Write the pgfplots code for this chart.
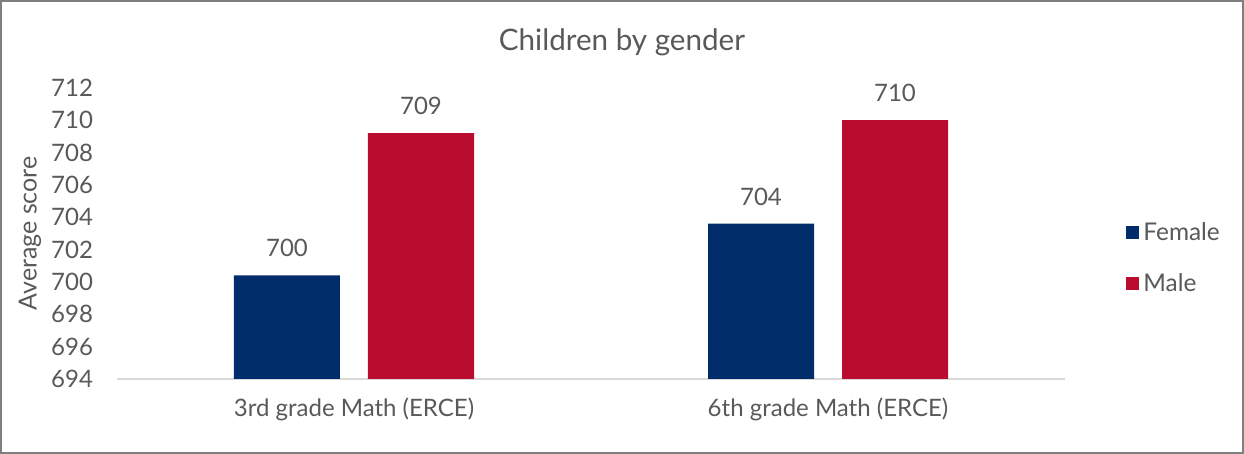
\documentclass[border=0pt]{standalone}
\usepackage{pgfplots}
\pgfplotsset{compat=1.18}
\usepackage{fontspec}
\setmainfont{Lato}
\definecolor{fem}{RGB}{0,45,106}
\definecolor{mal}{RGB}{186,12,47}
\definecolor{txt}{RGB}{89,89,89}
\definecolor{frame}{RGB}{127,127,127}
\definecolor{baseline}{RGB}{217,217,217}
\pgfplotsset{sqlegend/.style={legend image code/.code={\fill[##1,draw=none] (0pt,-3.25pt) rectangle (6.5pt,3.25pt);}}}
\begin{document}
\begin{tikzpicture}
\useasboundingbox (0,0) rectangle (622pt,227pt);
\draw[line width=1pt, frame] (0.5pt,0.5pt) rectangle (621.5pt,226.5pt);
\begin{axis}[
  at={(58.5pt,37.5pt)}, anchor=south west,
  scale only axis, width=474pt, height=145.65pt,
  xmin=-0.5, xmax=1.5, ymin=694, ymax=712,
  ytick={694,696,...,712},
  xtick={0,1}, xticklabels={3rd grade Math (ERCE), 6th grade Math (ERCE)},
  major tick length=0pt,
  ybar=14pt, bar width=53pt,
  axis x line*=bottom, axis y line*=left,
  y axis line style={draw=none},
  x axis line style={draw=baseline, line width=0.75pt, -},
  /pgf/number format/assume math mode=true,
  tick label style={font=\fontsize{12}{14}\selectfont, text=txt},
  yticklabel style={xshift=-8.5pt},
  xticklabel style={yshift=-6pt},
  ylabel={Average score},
  ylabel style={at={(axis description cs:-0.0918,0.5)}, anchor=center, font=\fontsize{12.5}{15}\selectfont, text=txt},
  title={Children by gender},
  every axis title shift=0pt,
  title style={at={(axis description cs:0.5327,1.157)}, anchor=center, yshift=0pt, font=\fontsize{14.8}{17}\selectfont, text=txt},
  nodes near coords,
  nodes near coords style={font=\fontsize{12}{14}\selectfont, text=txt, yshift=5.6pt, /pgf/number format/fixed, /pgf/number format/precision=0},
  legend style={at={(axis description cs:1.058,0.415)}, anchor=west, draw=none, fill=none, font=\fontsize{12.2}{14}\selectfont, text=txt, row sep=11pt},
  legend cell align=left,
]
\addplot[fill=fem, draw=none, sqlegend] coordinates {(0,700.4) (1,703.6)};
\addplot[fill=mal, draw=none, sqlegend] coordinates {(0,709.2) (1,710.0)};
\legend{Female, Male}
\end{axis}
\end{tikzpicture}
\end{document}
